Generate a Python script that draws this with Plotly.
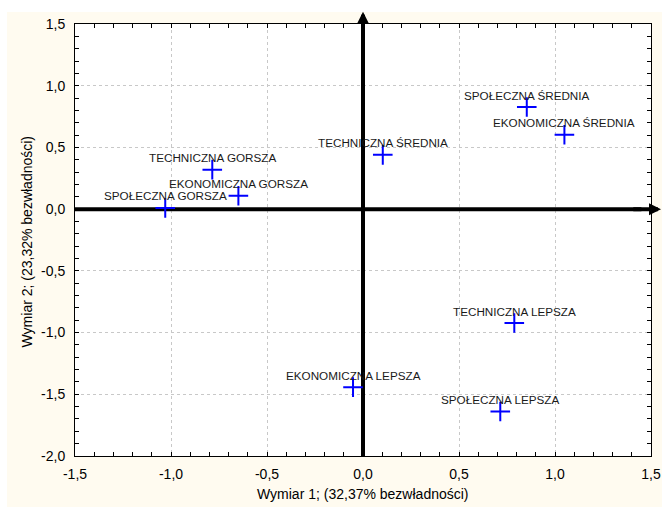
import plotly.graph_objects as go

labels = ["SPOŁECZNA GORSZA", "TECHNICZNA GORSZA", "EKONOMICZNA GORSZA",
          "TECHNICZNA ŚREDNIA", "SPOŁECZNA ŚREDNIA", "EKONOMICZNA ŚREDNIA",
          "TECHNICZNA LEPSZA", "EKONOMICZNA LEPSZA", "SPOŁECZNA LEPSZA"]
dim1 = [-1.03, -0.785, -0.649, 0.103, 0.853, 1.049, 0.788, -0.052, 0.715]
dim2 = [0.01, 0.32, 0.109, 0.44, 0.827, 0.603, -0.923, -1.442, -1.639]

xtick_vals = [-1.5, -1.0, -0.5, 0.0, 0.5, 1.0, 1.5]
xtick_text = ["-1,5", "-1,0", "-0,5", "0,0", "0,5", "1,0", "1,5"]
ytick_vals = [-2.0, -1.5, -1.0, -0.5, 0.0, 0.5, 1.0, 1.5]
ytick_text = ["-2,0", "-1,5", "-1,0", "-0,5", "0,0", "0,5", "1,0", "1,5"]

x_title = "Wymiar 1; (32,37% bezwładności)"
y_title = "Wymiar 2; (23,32% bezwładności)"

FONT = "Liberation Sans, Arial, sans-serif"
CREAM = "#FFFBF0"

fig = go.Figure()
fig.add_trace(go.Scatter(
    x=dim1, y=dim2, mode="markers",
    marker=dict(symbol="cross-thin", size=14, color="#0000FF",
                line=dict(color="#0000FF", width=2)),
    cliponaxis=False, showlegend=False, hoverinfo="skip"))

annotations = []
for lx, ly, t in zip(dim1, dim2, labels):
    annotations.append(dict(x=lx, y=ly, text=t, showarrow=False, xref="x", yref="y",
                            xanchor="center", yanchor="middle", yshift=12,
                            font=dict(family=FONT, size=11.7, color="#1a1a1a")))

# arrow heads of the thick axes (short arrows near the tips)
annotations.append(dict(x=1.552, y=0, ax=1.40, ay=0, xref="x", yref="y",
                        axref="x", ayref="y", text="", showarrow=True,
                        arrowhead=2, arrowsize=0.6, arrowwidth=4, arrowcolor="black"))
annotations.append(dict(x=0, y=1.6, ax=0, ay=1.35, xref="x", yref="y",
                        axref="x", ayref="y", text="", showarrow=True,
                        arrowhead=2, arrowsize=0.6, arrowwidth=4, arrowcolor="black"))

# axis titles
annotations.append(dict(x=0.5, y=-0.088, xref="paper", yref="paper", text=x_title,
                        showarrow=False, xanchor="center", yanchor="middle",
                        font=dict(family=FONT, size=14, color="black")))
annotations.append(dict(x=-0.083, y=0.497, xref="paper", yref="paper", text=y_title,
                        showarrow=False, xanchor="center", yanchor="middle", textangle=-90,
                        font=dict(family=FONT, size=14, color="black")))

axis_common = dict(
    showline=True, linecolor="black", linewidth=1, mirror="allticks",
    ticks="inside", ticklen=4, tickcolor="black", tickwidth=1,
    showgrid=True, gridcolor="#c8c8c8", griddash="dot", gridwidth=1,
    zeroline=False, automargin=False,
    minor=dict(dtick=0.1, ticks="inside", ticklen=4, tickcolor="black", showgrid=False),
    tickfont=dict(family=FONT, size=14, color="black"),
)

fig.update_xaxes(range=[-1.5, 1.5], tickvals=xtick_vals, ticktext=xtick_text,
                 ticklabelstandoff=5, **axis_common)
fig.update_yaxes(range=[-2.0, 1.5], tickvals=ytick_vals, ticktext=ytick_text,
                 ticklabelstandoff=6, **axis_common)

shapes = [
    # thick axis lines through the origin
    dict(type="line", xref="x", yref="y", x0=-1.5, x1=1.45, y0=0, y1=0,
         line=dict(color="black", width=4), layer="between"),
    dict(type="line", xref="x", yref="y", x0=0, x1=0, y0=-2.0, y1=1.5,
         line=dict(color="black", width=4), layer="between"),
    # white strips outside the cream frame
    dict(type="rect", xref="paper", yref="paper", x0=-0.14, x1=1.05, y0=1.0278, y1=1.07,
         fillcolor="white", line=dict(width=0), layer="below"),
    dict(type="rect", xref="paper", yref="paper", x0=-0.14, x1=-0.118, y0=-0.13, y1=1.07,
         fillcolor="white", line=dict(width=0), layer="below"),
]

fig.update_layout(
    width=662, height=507,
    margin=dict(l=75, r=11, t=24, b=51, pad=0, autoexpand=False),
    paper_bgcolor=CREAM, plot_bgcolor="white",
    annotations=annotations, shapes=shapes,
    showlegend=False,
    font=dict(family=FONT),
)

fig.write_html("out.html")
